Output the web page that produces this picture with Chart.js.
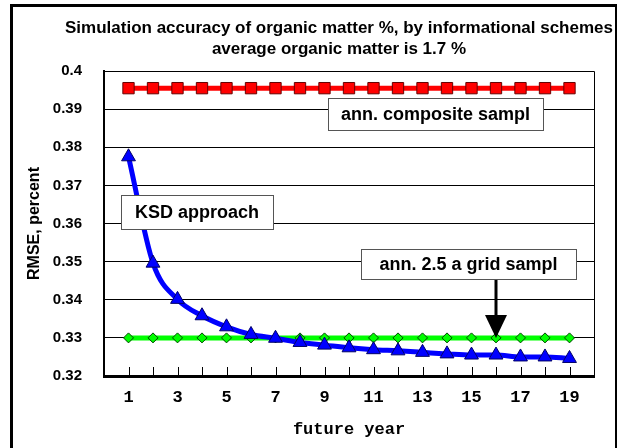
<!DOCTYPE html>
<html>
<head>
<meta charset="utf-8">
<script src="https://cdn.jsdelivr.net/npm/chart.js@4"></script>
<style>
  body { margin: 0; background: #fff; }
  #wrap { position: relative; width: 620px; height: 448px; overflow: hidden; }
  #frame { position: absolute; left: 10px; top: 4px; width: 602px; height: 460px;
           border-left: 3px solid #000; border-top: 3px solid #000; border-right: 2px solid #000; }
  canvas { position: absolute; left: 0; top: 0; }
</style>
</head>
<body>
<div id="wrap">
  <div id="frame"></div>
  <canvas id="myChart" width="620" height="448"></canvas>
</div>
<script>
// chart data
const years = [1, 2, 3, 4, 5, 6, 7, 8, 9, 10, 11, 12, 13, 14, 15, 16, 17, 18, 19];
const ksdApproach = [0.3775, 0.3496, 0.3401, 0.3358, 0.3329, 0.3309, 0.3299, 0.3288, 0.3281, 0.3274,
                     0.3269, 0.3266, 0.3262, 0.3258, 0.3255, 0.3255, 0.3250, 0.3250, 0.3246];
const gridSampl = [0.330, 0.330, 0.330, 0.330, 0.330, 0.330, 0.330, 0.330, 0.330, 0.330,
                   0.330, 0.330, 0.330, 0.330, 0.330, 0.330, 0.330, 0.330, 0.330];
const compositeSampl = [0.3955, 0.3955, 0.3955, 0.3955, 0.3955, 0.3955, 0.3955, 0.3955, 0.3955, 0.3955,
                        0.3955, 0.3955, 0.3955, 0.3955, 0.3955, 0.3955, 0.3955, 0.3955, 0.3955];
const yTicks = [0.32, 0.33, 0.34, 0.35, 0.36, 0.37, 0.38, 0.39, 0.4];
const titleLines = ['Simulation accuracy of organic matter %, by informational schemes',
                    'average organic matter is 1.7 %'];
const xTitle = 'future year';
const yTitle = 'RMSE, percent';
const arrowYear = 16; // grid sampl label points here

function toPoints(vals) {
    return vals.map(function (v, i) { return { x: years[i], y: v }; });
}

// title, frame of plot, inner tick marks, text boxes and the arrow
const extras = {
    id: 'extras',
    afterDraw: function (chart) {
        const ctx = chart.ctx;
        const a = chart.chartArea;
        const xs = chart.scales.x;
        const ys = chart.scales.y;
        ctx.save();

        // title
        ctx.fillStyle = '#000';
        ctx.textAlign = 'center';
        ctx.textBaseline = 'middle';
        ctx.font = 'bold 17px "Liberation Sans", Arial, sans-serif';
        ctx.fillText(titleLines[0], 339, 28);
        ctx.fillText(titleLines[1], 339, 49);

        // top and right frame
        ctx.strokeStyle = '#000';
        ctx.lineWidth = 1;
        ctx.beginPath();
        ctx.moveTo(a.left, a.top + 0.5);
        ctx.lineTo(a.right + 0.5, a.top + 0.5);
        ctx.lineTo(a.right + 0.5, a.bottom);
        ctx.stroke();

        // tick marks inside the plot
        years.forEach(function (yr) {
            const px = Math.round(xs.getPixelForValue(yr)) + 0.5;
            ctx.beginPath();
            ctx.moveTo(px, a.bottom);
            ctx.lineTo(px, a.bottom - 9);
            ctx.stroke();
        });

        // text boxes
        function box(text, x1, y1, x2, y2) {
            ctx.fillStyle = '#fff';
            ctx.fillRect(x1, y1, x2 - x1, y2 - y1);
            ctx.strokeStyle = '#555';
            ctx.lineWidth = 1;
            ctx.strokeRect(x1 + 0.5, y1 + 0.5, x2 - x1, y2 - y1);
            ctx.fillStyle = '#000';
            ctx.font = 'bold 18px "Liberation Sans", Arial, sans-serif';
            ctx.fillText(text, (x1 + x2) / 2, (y1 + y2) / 2 + 1);
        }
        box('ann. composite sampl', 328, 98, 543, 130);
        box('KSD approach', 121, 195, 273, 229);
        box('ann. 2.5 a grid sampl', 361, 249, 576, 279);

        // arrow to the grid sampl line
        const tipX = xs.getPixelForValue(arrowYear);
        const tipY = ys.getPixelForValue(gridSampl[arrowYear - 1]);
        ctx.strokeStyle = '#000';
        ctx.lineWidth = 3;
        ctx.beginPath();
        ctx.moveTo(tipX, 280);
        ctx.lineTo(tipX, tipY - 20);
        ctx.stroke();
        ctx.fillStyle = '#000';
        ctx.beginPath();
        ctx.moveTo(tipX, tipY);
        ctx.lineTo(tipX - 11, tipY - 23);
        ctx.lineTo(tipX + 11, tipY - 23);
        ctx.closePath();
        ctx.fill();

        ctx.restore();
    }
};

const ctx = document.getElementById('myChart').getContext('2d');
new Chart(ctx, {
    type: 'line',
    data: {
        datasets: [{
            label: 'KSD approach',
            data: toPoints(ksdApproach),
            borderColor: '#0000FF',
            borderWidth: 5,
            cubicInterpolationMode: 'monotone',
            pointStyle: 'triangle',
            pointRadius: 8,
            pointBackgroundColor: '#0000FF',
            pointBorderColor: '#000066',
            pointBorderWidth: 1
        }, {
            label: 'ann. 2.5 a grid sampl',
            data: toPoints(gridSampl),
            borderColor: '#00FF00',
            borderWidth: 5,
            pointStyle: 'rectRot',
            pointRadius: 5,
            pointBackgroundColor: '#00FF00',
            pointBorderColor: '#004400',
            pointBorderWidth: 1
        }, {
            label: 'ann. composite sampl',
            data: toPoints(compositeSampl),
            borderColor: '#FF0000',
            borderWidth: 5,
            pointStyle: 'rect',
            pointRadius: 8,
            pointBackgroundColor: '#FF0000',
            pointBorderColor: '#660000',
            pointBorderWidth: 1
        }]
    },
    options: {
        responsive: false,
        animation: false,
        events: [],
        layout: { padding: { top: 71, left: 0, right: 26, bottom: 0 }, autoPadding: false },
        plugins: {
            legend: { display: false },
            tooltip: { enabled: false },
            title: { display: false }
        },
        scales: {
            x: {
                type: 'linear',
                min: 0,
                max: 20,
                afterFit: function (s) { s.height = 72; },
                afterBuildTicks: function (s) {
                    s.ticks = years.map(function (v) { return { value: v }; });
                },
                ticks: {
                    autoSkip: false,
                    maxRotation: 0,
                    padding: 12,
                    color: '#000',
                    font: { family: '"Liberation Mono", "Courier New", monospace', size: 17, weight: 'bold' },
                    callback: function (v) { return v % 2 === 1 ? String(v) : ''; }
                },
                grid: { display: false, drawTicks: false },
                border: { display: true, color: '#000', width: 3 },
                title: {
                    display: true,
                    text: xTitle,
                    color: '#000',
                    padding: { top: 0, bottom: 8 },
                    font: { family: '"Liberation Mono", "Courier New", monospace', size: 17, weight: 'bold' }
                }
            },
            y: {
                min: 0.32,
                max: 0.4,
                afterFit: function (s) { s.width = 104; },
                afterBuildTicks: function (s) {
                    s.ticks = yTicks.map(function (v) { return { value: v }; });
                },
                ticks: {
                    padding: 22,
                    color: '#000',
                    font: { family: '"Liberation Sans", Arial, sans-serif', size: 15, weight: 'bold' },
                    callback: function (v) { return String(Number(v.toFixed(2))); }
                },
                grid: { color: '#000', lineWidth: 1, drawTicks: false },
                border: { display: true, color: '#000', width: 2 },
                title: {
                    display: true,
                    text: yTitle,
                    color: '#000',
                    padding: { top: 25, bottom: 0 },
                    font: { family: '"Liberation Sans", Arial, sans-serif', size: 16, weight: 'bold' }
                }
            }
        }
    },
    plugins: [extras]
});
</script>
</body>
</html>
